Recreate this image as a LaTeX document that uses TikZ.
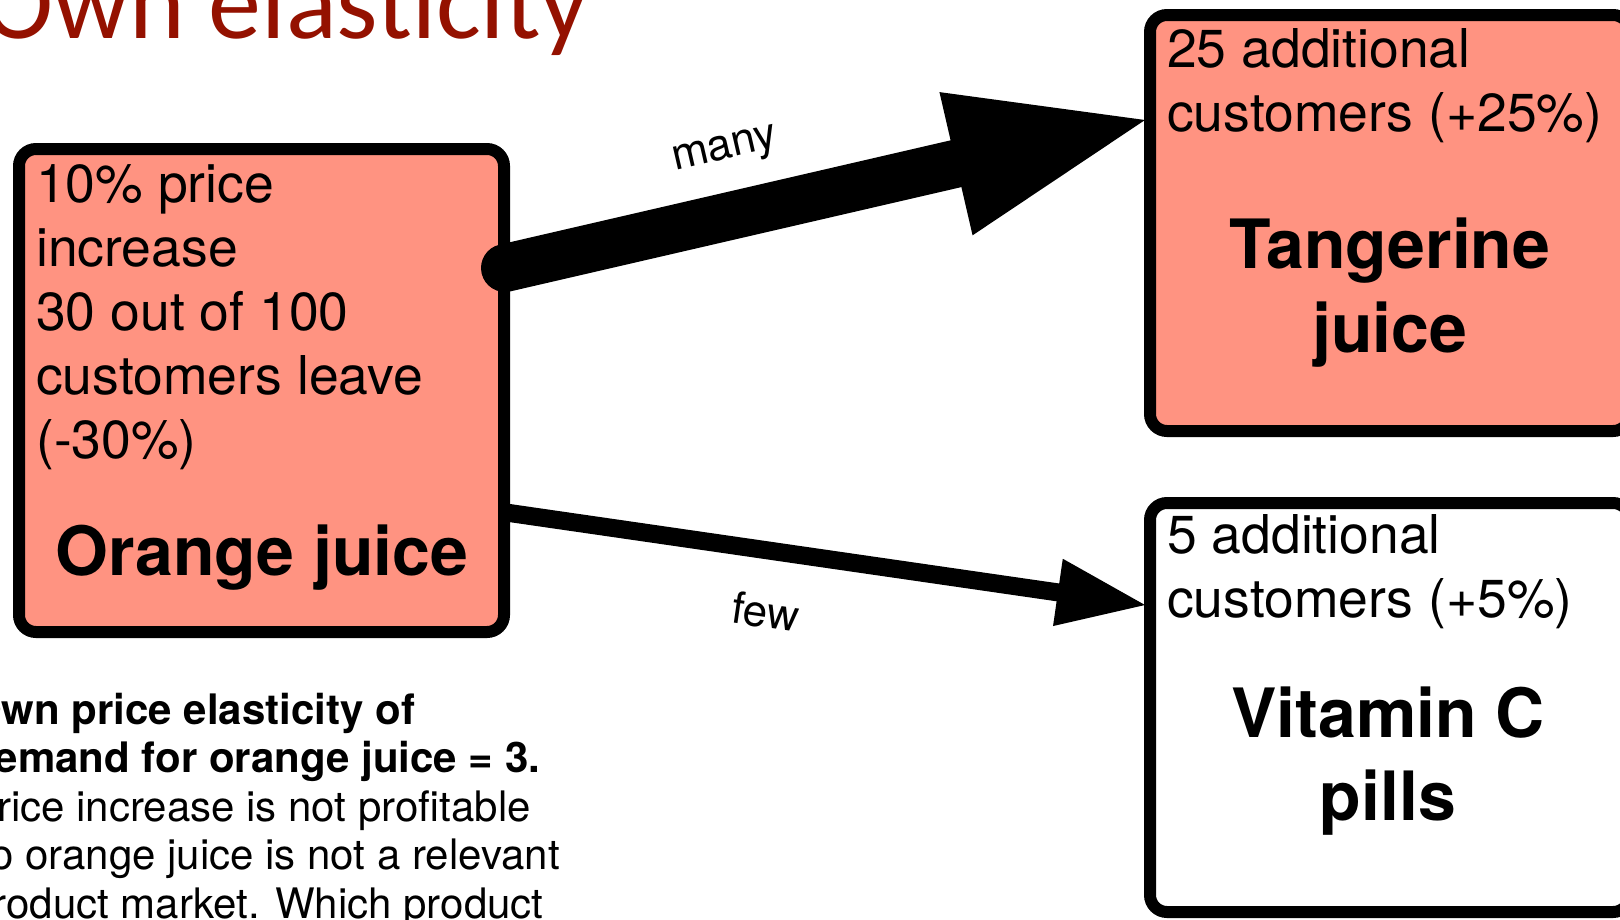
\documentclass[tikz,border=0pt]{standalone}
\usepackage{fontspec}
\setmainfont{TeX Gyre Heros}
\newfontfamily\titlefont{Carlito}
\usetikzlibrary{calc}
\definecolor{salmon}{HTML}{FF9381}
\definecolor{titlered}{HTML}{941100}

% stacked lines with a fixed baseline distance; the block's baseline is its first line
\newcommand\leftrows[2]{\vtop{\baselineskip=#1\lineskip=0pt\lineskiplimit=-1000pt\halign{##\hfil\cr#2\crcr}}}
\newcommand\centerrows[2]{\vtop{\baselineskip=#1\lineskip=0pt\lineskiplimit=-1000pt\halign{\hfil##\hfil\cr#2\crcr}}}

\begin{document}
\begin{tikzpicture}[x=1pt,y=-1pt,
  prodbox/.style={draw=black, line width=12pt, rounded corners=17pt, inner sep=0pt},
  bodytext/.style={inner sep=0pt, anchor=base west, font=\fontsize{53.5}{64}\selectfont},
  prodname/.style={inner sep=0pt, anchor=base, font=\bfseries\fontsize{68}{83}\selectfont},
  lbl/.style={inner sep=0pt, anchor=base, font=\fontsize{44}{50}\selectfont},
  headfill/.style={fill=black}
]
\useasboundingbox (0,0) rectangle (1620,919);
\clip (0,0) rectangle (1620,919);

% title
\node[inner sep=0pt, anchor=base east, text=titlered,
      font=\titlefont\fontsize{106}{120}\selectfont] (title) at (589,38) {Own elasticity};

% product boxes
\node[prodbox, fill=salmon, minimum width=485pt, minimum height=483pt] (orange) at (261.5,390.5) {};
\node[prodbox, fill=salmon, minimum width=480pt, minimum height=416pt] (tang) at (1390,223) {};
\node[prodbox, fill=white, minimum width=480pt, minimum height=409pt] (vit) at (1390,707.5) {};

% box texts
\node[bodytext] (orangetxt) at (36,202)
  {\leftrows{64pt}{10\% price\cr increase\cr 30 out of 100\cr customers leave\cr (-30\%)}};
\node[prodname] (orangename) at (262,575) {Orange juice};

\node[bodytext] (tangtxt) at (1167,67)
  {\leftrows{64pt}{25 additional\cr customers (+25\%)}};
\node[prodname] (tangname) at (1390,268) {\centerrows{84pt}{Tangerine\cr juice}};

\node[bodytext] (vittxt) at (1167,553)
  {\leftrows{64pt}{5 additional\cr customers (+5\%)}};
\node[prodname] (vitname) at (1388,737) {\centerrows{83pt}{Vitamin C\cr pills}};

% note below the orange juice box
\node[inner sep=0pt, anchor=base west, font=\fontsize{42}{49}\selectfont] (note) at (-31,724)
  {\leftrows{48.5pt}{\bfseries Own price elasticity of\cr
   \bfseries demand for orange juice = 3.\cr
   Price increase is not profitable\cr
   so orange juice is not a relevant\cr
   product market. Which product}};

% connector end points
\coordinate (m0) at ($(orange.east)+(-5,-122.5)$);
\coordinate (m1) at ($(tang.west)+(1,-103)$);
\coordinate (f0) at ($(orange.east)+(-4,122)$);
\coordinate (f1) at ($(vit.west)+(1,-102.5)$);

% many: thick arrow to tangerine juice
\draw[line width=48pt, line cap=round] (m0) -- ($(m1)!190pt!(m0)$);
\fill[headfill] (m1) -- ($(m1)!194pt!(m0)!73.5pt!90:(m0)$)
               -- ($(m1)!194pt!(m0)!73.5pt!-90:(m0)$) -- cycle;
\node[lbl, rotate=12.96] (many) at ($(m0)!0.367!(m1)!56.6pt!90:(m1)$) {many};

% few: thin arrow to vitamin C pills
\draw[line width=18pt] (f0) -- ($(f1)!84pt!(f0)$);
\fill[headfill] (f1) -- ($(f1)!88pt!(f0)!34pt!90:(f0)$)
               -- ($(f1)!88pt!(f0)!34pt!-90:(f0)$) -- cycle;
\node[lbl, rotate=-8.24] (few) at ($(f0)!0.42!(f1)!76.8pt!-90:(f1)$) {few};
\end{tikzpicture}
\end{document}
